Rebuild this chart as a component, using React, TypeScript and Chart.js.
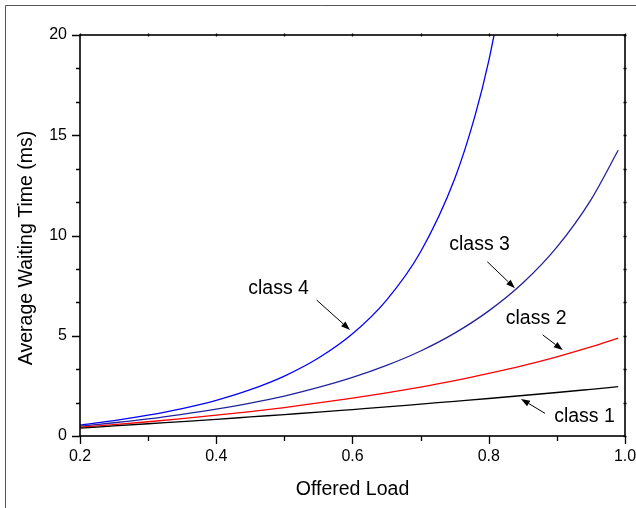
import React, { useEffect, useRef } from "react";
import { Chart, registerables } from "chart.js";

Chart.register(...registerables);

// Offered load values (x)
const loads = [0.2, 0.25, 0.3, 0.35, 0.4, 0.45, 0.5, 0.55, 0.6, 0.65, 0.7, 0.75, 0.8, 0.85, 0.9, 0.95, 0.99];
const class1 = [0.39, 0.5, 0.61, 0.72, 0.83, 0.95, 1.07, 1.19, 1.32, 1.45, 1.59, 1.73, 1.87, 2.02, 2.17, 2.33, 2.46];
const class2 = [0.44, 0.57, 0.71, 0.87, 1.04, 1.22, 1.42, 1.65, 1.89, 2.15, 2.44, 2.76, 3.12, 3.51, 3.95, 4.44, 4.88];
const class3 = [0.49, 0.66, 0.85, 1.08, 1.34, 1.64, 1.99, 2.42, 2.92, 3.52, 4.24, 5.13, 6.24, 7.63, 9.42, 11.78, 14.25];
const loads4 = [0.2, 0.25, 0.3, 0.35, 0.4, 0.45, 0.5, 0.55, 0.6, 0.65, 0.7, 0.75, 0.78, 0.8, 0.82];
const class4 = [0.55, 0.77, 1.04, 1.37, 1.78, 2.31, 2.99, 3.89, 5.1, 6.78, 9.19, 12.83, 15.99, 18.71, 22.14];

const seriesNames = ["class 1", "class 2", "class 3", "class 4"];
const seriesColors = ["#000000", "#ff0000", "#22229f", "#0000ff"];

// Annotation labels (data coords): text left x, baseline y, arrow from -> to
const labelX = [0.896, 0.825, 0.742, 0.447];
const labelY = [0.71, 5.57, 9.28, 7.08];
const arrowFromX = [0.8826, 0.8792, 0.7979, 0.5474];
const arrowFromY = [1.13, 5.04, 8.69, 6.78];
const arrowToX = [0.8473, 0.9086, 0.8385, 0.5963];
const arrowToY = [1.85, 4.29, 7.37, 5.29];

const xMajor = [0.2, 0.4, 0.6, 0.8, 1.0];
const xMinor = [0.3, 0.5, 0.7, 0.9];
const yMajor = [0, 5, 10, 15, 20];
const yMinor = [5 / 3, 10 / 3, 20 / 3, 25 / 3, 35 / 3, 40 / 3, 50 / 3, 55 / 3];

const xTitle = "Offered Load";
const yTitle = "Average Waiting Time (ms)";

const FONT = "'Liberation Sans', Arial, sans-serif";

const decorPlugin = {
  id: "decor",
  beforeDraw(chart: any) {
    const ctx = chart.ctx;
    ctx.save();
    ctx.fillStyle = "#ffffff";
    ctx.fillRect(0, 0, chart.width, chart.height);
    ctx.strokeStyle = "#555555";
    ctx.lineWidth = 1;
    ctx.beginPath();
    ctx.moveTo(5.5, chart.height + 2);
    ctx.lineTo(5.5, 5.5);
    ctx.lineTo(chart.width + 2, 5.5);
    ctx.stroke();
    ctx.restore();
  },
  afterDraw(chart: any) {
    const ctx = chart.ctx;
    const xs = chart.scales.x;
    const ys = chart.scales.y;
    const a = chart.chartArea;
    ctx.save();
    // annotations
    ctx.fillStyle = "#000";
    ctx.strokeStyle = "#000";
    ctx.font = "19.5px " + FONT;
    ctx.textBaseline = "alphabetic";
    ctx.textAlign = "left";
    for (let i = 0; i < seriesNames.length; i++) {
      ctx.fillText(seriesNames[i], xs.getPixelForValue(labelX[i]), ys.getPixelForValue(labelY[i]));
      const x1 = xs.getPixelForValue(arrowFromX[i]);
      const y1 = ys.getPixelForValue(arrowFromY[i]);
      const x2 = xs.getPixelForValue(arrowToX[i]);
      const y2 = ys.getPixelForValue(arrowToY[i]);
      const ang = Math.atan2(y2 - y1, x2 - x1);
      const hl = 9, hw = 3.2;
      const bx = x2 - hl * Math.cos(ang);
      const by = y2 - hl * Math.sin(ang);
      ctx.lineWidth = 1;
      ctx.beginPath();
      ctx.moveTo(x1, y1);
      ctx.lineTo(bx, by);
      ctx.stroke();
      ctx.beginPath();
      ctx.moveTo(x2, y2);
      ctx.lineTo(bx + hw * Math.sin(ang), by - hw * Math.cos(ang));
      ctx.lineTo(bx - hw * Math.sin(ang), by + hw * Math.cos(ang));
      ctx.closePath();
      ctx.fill();
    }
    // frame
    ctx.lineWidth = 1.6;
    ctx.strokeStyle = "#000";
    ctx.strokeRect(a.left, a.top, a.right - a.left, a.bottom - a.top);
    ctx.lineWidth = 1.3;
    ctx.beginPath();
    for (const v of xMajor) {
      const p = Math.round(xs.getPixelForValue(v)) + 0.5;
      ctx.moveTo(p, a.bottom);
      ctx.lineTo(p, a.bottom + 8);
      ctx.moveTo(p, a.top - 1.5);
      ctx.lineTo(p, a.top + 1.5);
    }
    for (const v of xMinor) {
      const p = Math.round(xs.getPixelForValue(v)) + 0.5;
      ctx.moveTo(p, a.bottom);
      ctx.lineTo(p, a.bottom + 5);
      ctx.moveTo(p, a.top - 1.5);
      ctx.lineTo(p, a.top + 1.5);
    }
    for (const v of yMajor) {
      const p = Math.round(ys.getPixelForValue(v)) + 0.5;
      ctx.moveTo(a.left - 8, p);
      ctx.lineTo(a.left, p);
      ctx.moveTo(a.right - 1.5, p);
      ctx.lineTo(a.right + 1.5, p);
    }
    for (const v of yMinor) {
      const p = Math.round(ys.getPixelForValue(v)) + 0.5;
      ctx.moveTo(a.left - 4, p);
      ctx.lineTo(a.left, p);
      ctx.moveTo(a.right - 1.5, p);
      ctx.lineTo(a.right + 1.5, p);
    }
    ctx.stroke();
    // axis titles
    ctx.font = "19.5px " + FONT;
    ctx.textAlign = "center";
    ctx.textBaseline = "alphabetic";
    ctx.fillText(xTitle, (a.left + a.right) / 2, 495);
    ctx.translate(32, 248);
    ctx.rotate(-Math.PI / 2);
    ctx.fillText(yTitle, 0, 0);
    ctx.restore();
  },
};

export default function App() {
  const ref = useRef<HTMLCanvasElement | null>(null);
  useEffect(() => {
    if (!ref.current) return;
    const mk = (xv: number[], yv: number[]) => xv.map((x, i) => ({ x, y: yv[i] }));
    const chart = new Chart(ref.current, {
      type: "line",
      data: {
        datasets: [
          { label: seriesNames[0], data: mk(loads, class1), borderColor: seriesColors[0] },
          { label: seriesNames[1], data: mk(loads, class2), borderColor: seriesColors[1] },
          { label: seriesNames[2], data: mk(loads, class3), borderColor: seriesColors[2] },
          { label: seriesNames[3], data: mk(loads4, class4), borderColor: seriesColors[3] },
        ].map((d) => ({
          ...d,
          borderWidth: 1.3,
          pointRadius: 0,
          fill: false,
          cubicInterpolationMode: "monotone" as const,
        })),
      },
      options: {
        responsive: false,
        animation: false,
        events: [],
        layout: { padding: { top: 35, right: 11, left: 0, bottom: 0 } },
        plugins: { legend: { display: false }, tooltip: { enabled: false } },
        scales: {
          x: {
            type: "linear",
            min: 0.2,
            max: 1.0,
            grid: { display: false, drawTicks: false },
            border: { display: false },
            afterBuildTicks: (s: any) => {
              s.ticks = xMajor.map((v) => ({ value: v }));
            },
            afterFit: (s: any) => {
              s.height = 72;
              s.paddingLeft = 0;
              s.paddingRight = 0;
            },
            ticks: {
              padding: 11,
              color: "#000",
              font: { family: FONT, size: 16 },
              maxRotation: 0,
              callback: (v: any) => Number(v).toFixed(1),
            },
          },
          y: {
            type: "linear",
            min: 0,
            max: 20,
            grid: { display: false, drawTicks: false },
            border: { display: false },
            afterBuildTicks: (s: any) => {
              s.ticks = yMajor.map((v) => ({ value: v }));
            },
            afterFit: (s: any) => {
              s.width = 80;
              s.paddingTop = 0;
              s.paddingBottom = 0;
            },
            ticks: {
              padding: 13,
              color: "#000",
              font: { family: FONT, size: 16 },
              callback: (v: any) => String(v),
            },
          },
        },
      },
      plugins: [decorPlugin],
    });
    return () => chart.destroy();
  }, []);
  return (
    <div style={{ position: "fixed", left: 0, top: 0, width: 636, height: 508, background: "#fff" }}>
      <canvas ref={ref} width={636} height={508} style={{ display: "block", width: 636, height: 508 }} />
    </div>
  );
}
